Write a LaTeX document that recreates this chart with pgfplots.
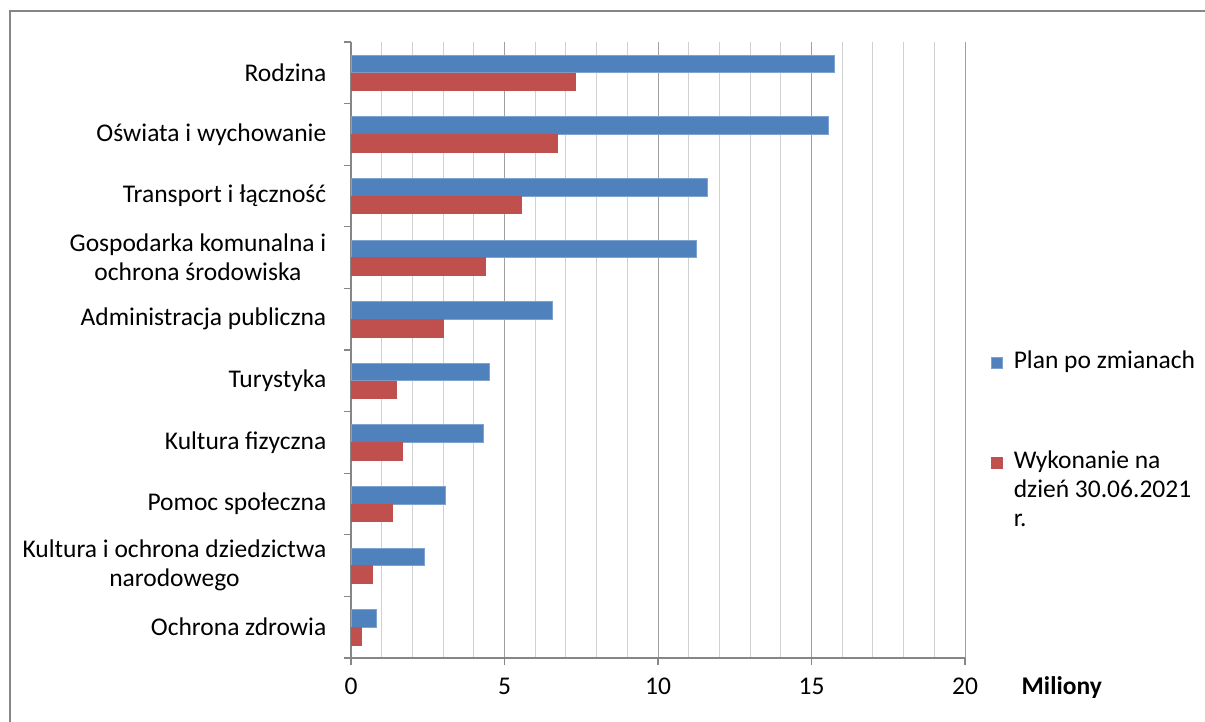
\documentclass[border=0pt]{standalone}
\usepackage{fontspec}
\setmainfont{Carlito}
\usepackage{pgfplots}
\pgfplotsset{compat=1.18}
\definecolor{planblue}{HTML}{4F81BD}
\definecolor{planedge}{HTML}{7FA3D1}
\definecolor{wykred}{HTML}{C0504D}
\definecolor{axisgray}{HTML}{868686}
\definecolor{gridminor}{HTML}{D0D0D0}
\definecolor{gridmajor}{HTML}{A0A0A0}
% square aligned with the first of three legend lines
\pgfplotsset{firstline legend/.style={
  legend image code/.code={\path[##1] (0bp,58bp) rectangle (11bp,69bp);}}}

\begin{document}
\fontsize{25.5bp}{29bp}\selectfont
\begin{tikzpicture}
\path[use as bounding box] (0,0) rectangle (1205bp,722bp);
% outer chart frame (cut off on the right and bottom)
\draw[color=axisgray, line width=1.5bp] (10bp,-5bp) -- (10bp,711bp) -- (1215bp,711bp);
\begin{axis}[
  at={(351bp,64bp)}, anchor=south west,
  scale only axis, width=614bp, height=616bp,
  xmin=0, xmax=20, ymin=-0.5, ymax=9.5,
  axis x line*=bottom, axis y line*=left,
  axis line style={draw=axisgray, line width=1.2bp, -},
  xtick={0,5,...,20}, minor x tick num=4,
  xmajorgrids, xminorgrids,
  major grid style={draw=gridmajor, line width=1bp},
  minor grid style={draw=gridminor, line width=1bp},
  tick align=outside, major tick length=7bp, minor tick length=0bp,
  tick style={draw=axisgray, line width=1.2bp},
  ytick={-0.5,0.5,...,8.5},
  yticklabels={Ochrona zdrowia,
    {Kultura i ochrona dziedzictwa\\narodowego},
    Pomoc społeczna, Kultura fizyczna, Turystyka,
    Administracja publiczna,
    {Gospodarka komunalna i\\ochrona środowiska},
    Transport i łączność, Oświata i wychowanie, Rodzina},
  yticklabel style={align=center, yshift=30.8bp, xshift=-9bp},
  xticklabel style={yshift=-4bp},
  extra y ticks={9.5}, extra y tick labels={}, extra y tick style={grid=none},
  /pgf/number format/assume math mode=true,
  xlabel={\bfseries Miliony},
  xlabel style={at={(axis description cs:1,0)}, anchor=west, xshift=48bp, yshift=-30bp},
  xbar, bar width=0.285,
  legend style={at={(1.042,0.503)}, anchor=north west, draw=none, fill=none,
    inner sep=0pt, row sep=75bp,
    /tikz/every odd column/.append style={column sep=9bp},
    cells={anchor=base west, align=left}},
  legend image code/.code={\path[#1] (0bp,0bp) rectangle (11bp,11bp);},
]
\addplot[fill=planblue, draw=planedge, line width=0.8bp, bar shift=0.1425] coordinates {
  (0.82,0) (2.39,1) (3.07,2) (4.31,3) (4.51,4)
  (6.55,5) (11.25,6) (11.62,7) (15.55,8) (15.75,9)
};
\addlegendentry{Plan po zmianach}
\addplot[fill=wykred, draw=wykred, line width=0.5bp, bar shift=-0.1425,
  firstline legend] coordinates {
  (0.33,0) (0.69,1) (1.34,2) (1.67,3) (1.46,4)
  (3.00,5) (4.38,6) (5.54,7) (6.72,8) (7.31,9)
};
\addlegendentry{Wykonanie na\\dzień 30.06.2021\\r.}
\end{axis}
\end{tikzpicture}
\end{document}
